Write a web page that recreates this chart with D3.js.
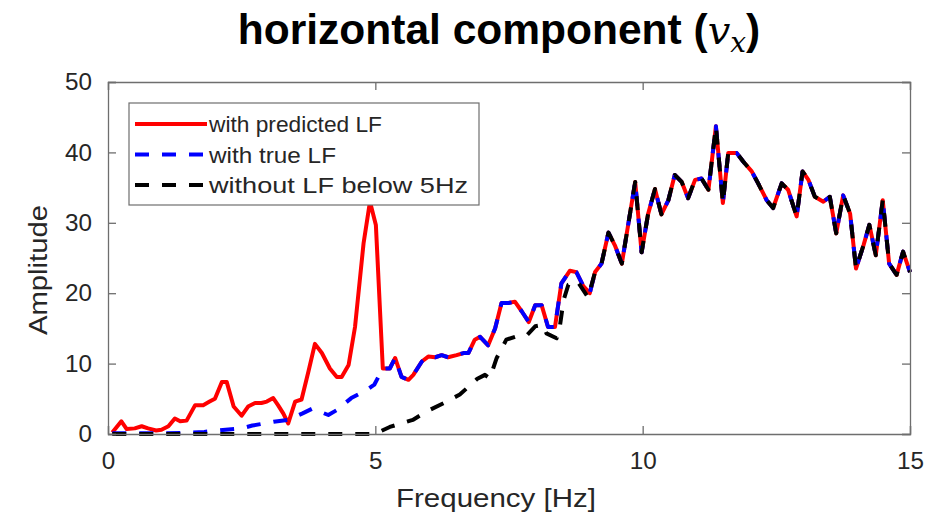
<!DOCTYPE html>
<html lang="en">
<head>
    <meta charset="UTF-8">
    <title>horizontal component</title>
    <script src="https://d3js.org/d3.v7.min.js"></script>
    <style>
        body { margin: 0; background: #fff; }
        text { font-family: "Liberation Sans", Arial, sans-serif; }
    </style>
</head>
<body>
    <svg width="935" height="517" id="chart"></svg>
    <script>
        const width = 935;
        const height = 517;
        const margin = { top: 82, right: 25, bottom: 83, left: 108 };

        // Low-frequency part of each curve (below ~5.2 Hz)
        const freqPredLow = [0.08, 0.25, 0.35, 0.5, 0.63, 0.75, 0.9, 1.0, 1.13, 1.25, 1.35, 1.47, 1.63, 1.78, 1.9, 2.0,
            2.13, 2.22, 2.35, 2.5, 2.62, 2.75, 2.87, 2.97, 3.09, 3.18, 3.28, 3.37, 3.5, 3.62, 3.75, 3.87, 4.0, 4.15,
            4.28, 4.37, 4.5, 4.62, 4.78, 4.9, 5.01];
        const ampPredLow = [0.2, 1.8, 0.7, 0.8, 1.1, 0.8, 0.5, 0.6, 1.1, 2.2, 1.8, 1.9, 4.1, 4.1, 4.6, 5.0,
            7.4, 7.4, 3.9, 2.6, 3.9, 4.4, 4.4, 4.6, 5.1, 4.1, 2.9, 1.5, 4.6, 4.9, 8.9, 12.8, 11.5, 9.3,
            8.1, 8.1, 9.8, 15.2, 27.1, 33.0, 29.7];

        const freqTrueLow = [0.08, 0.5, 1.0, 1.4, 1.8, 2.2, 2.5, 2.7, 2.85, 3.1, 3.37, 3.63, 3.82, 4.12, 4.28, 4.55, 4.83, 4.98];
        const ampTrueLow = [0.1, 0.1, 0.1, 0.15, 0.3, 0.6, 0.8, 1.2, 1.4, 1.75, 2.0, 2.9, 3.6, 2.7, 3.4, 5.1, 6.2, 7.0];

        const freqNoLFLow = [0.08, 1.0, 2.0, 3.0, 4.0, 4.95, 5.02, 5.27, 5.7, 5.96, 6.28, 6.58, 6.9, 7.05, 7.14, 7.27,
            7.45, 7.65, 7.83, 7.99, 8.14, 8.2, 8.39, 8.45, 8.52, 8.61, 8.77, 8.98];
        const ampNoLFLow = [0, 0, 0, 0, 0, 0, 0.1, 1.0, 2.0, 3.2, 4.4, 5.6, 7.8, 8.4, 7.9, 10.8,
            13.4, 13.9, 14.0, 15.3, 15.5, 14.3, 13.6, 15.2, 19.0, 21.2, 21.8, 19.4];

        // Shared by predicted and true LF between 5.1 and 9.1 Hz
        const freqMid = [5.14, 5.27, 5.37, 5.49, 5.62, 5.71, 5.87, 5.99, 6.12, 6.24, 6.36, 6.52, 6.65, 6.74, 6.86, 6.96,
            7.11, 7.24, 7.36, 7.49, 7.61, 7.74, 7.87, 7.99, 8.11, 8.23, 8.36, 8.48, 8.64, 8.76, 8.89, 9.01];
        const ampMid = [9.3, 9.3, 10.8, 8.1, 7.7, 8.4, 10.3, 11.0, 10.9, 11.2, 10.9, 11.2, 11.5, 11.5, 13.4, 13.8,
            12.6, 15.0, 18.6, 18.6, 18.8, 17.4, 15.9, 18.3, 18.3, 15.2, 15.2, 21.4, 23.2, 23.0, 21.0, 20.0];

        // Shared by all three curves above 9.1 Hz
        const freqHigh = [9.11, 9.23, 9.36, 9.48, 9.61, 9.86, 9.98, 10.1, 10.23, 10.35, 10.48, 10.6, 10.73, 10.85, 10.98,
            11.1, 11.23, 11.37, 11.5, 11.6, 11.76, 11.88, 12.04, 12.16, 12.32, 12.44, 12.6, 12.72, 12.88, 12.99,
            13.1, 13.22, 13.38, 13.5, 13.62, 13.75, 13.88, 13.99, 14.13, 14.24, 14.36, 14.49, 14.61, 14.75, 14.87, 15.0];
        const ampHigh = [23.0, 24.2, 28.6, 26.8, 24.2, 35.8, 25.8, 31.2, 34.8, 31.2, 33.2, 36.8, 35.8, 33.5, 36.1,
            36.3, 34.7, 43.7, 32.8, 39.9, 39.9, 38.7, 37.3, 35.6, 33.2, 32.1, 35.6, 34.7, 30.9, 37.3,
            36.1, 33.7, 33.0, 33.7, 28.5, 33.9, 31.3, 23.5, 26.8, 29.7, 25.4, 33.2, 24.2, 22.6, 25.9, 23.0];

        const xTicks = [0, 5, 10, 15];
        const yTicks = [0, 10, 20, 30, 40, 50];
        const seriesNames = ["with predicted LF", "with true LF", "without LF below 5Hz"];

        const zip = (f, a) => f.map((d, i) => [d, a[i]]);
        const series = [
            { name: seriesNames[0], color: "#ff0000", dash: null, labelWidth: 173,
              data: zip(freqPredLow, ampPredLow).concat(zip(freqMid, ampMid), zip(freqHigh, ampHigh)) },
            { name: seriesNames[1], color: "#0000ff", dash: "14,13", labelWidth: 127,
              data: zip(freqTrueLow, ampTrueLow).concat(zip(freqMid, ampMid), zip(freqHigh, ampHigh)) },
            { name: seriesNames[2], color: "#000000", dash: "14,13", labelWidth: 259,
              data: zip(freqNoLFLow, ampNoLFLow).concat(zip(freqHigh, ampHigh)) }
        ];

        const svg = d3.select("#chart");
        const x = d3.scaleLinear().domain([0, 15]).range([margin.left, width - margin.right]);
        const y = d3.scaleLinear().domain([0, 50]).range([height - margin.bottom, margin.top]);

        // Title
        const title = svg.append("text")
            .attr("x", 499).attr("y", 44)
            .attr("text-anchor", "middle")
            .attr("font-size", 42.5).attr("font-weight", "bold").attr("fill", "#000");
        title.append("tspan").text("horizontal component (");
        title.append("tspan").attr("font-family", "'DejaVu Serif', serif").attr("font-style", "italic")
            .attr("font-weight", "normal").attr("font-size", 40).text("v");
        title.append("tspan").attr("font-family", "'DejaVu Serif', serif").attr("font-style", "italic")
            .attr("font-weight", "normal").attr("font-size", 28).attr("dy", 8).text("x");
        title.append("tspan").attr("dy", -8).text(")");

        // Lines
        const line = d3.line().x(d => x(d[0])).y(d => y(d[1]));
        svg.append("g").selectAll("path")
            .data(series)
            .join("path")
            .attr("d", d => line(d.data))
            .attr("fill", "none")
            .attr("stroke", d => d.color)
            .attr("stroke-width", 4)
            .attr("stroke-linejoin", "round")
            .attr("stroke-dasharray", d => d.dash);

        // Axes (ticks pointing inward, box around the plot)
        const axisColor = "#6e6e6e";
        const gx = svg.append("g").attr("transform", `translate(0,${y(0)})`)
            .call(d3.axisBottom(x).tickValues(xTicks).tickSize(-8).tickPadding(18));
        const gxTop = svg.append("g").attr("transform", `translate(0,${y(50)})`)
            .call(d3.axisTop(x).tickValues(xTicks).tickSize(-8).tickFormat(""));
        const gy = svg.append("g").attr("transform", `translate(${x(0)},0)`)
            .call(d3.axisLeft(y).tickValues(yTicks).tickSize(-8).tickPadding(16));
        const gyRight = svg.append("g").attr("transform", `translate(${x(15)},0)`)
            .call(d3.axisRight(y).tickValues(yTicks).tickSize(-8).tickFormat(""));
        [gx, gxTop, gy, gyRight].forEach(g => {
            g.selectAll(".domain").attr("stroke", axisColor).attr("stroke-width", 1.3);
            g.selectAll(".tick line").attr("stroke", axisColor).attr("stroke-width", 1.3);
            g.selectAll(".tick text").attr("font-size", 24).attr("fill", "#262626")
                .attr("textLength", function () { return this.textContent.length * 13.5; })
                .attr("lengthAdjust", "spacingAndGlyphs");
        });

        // Axis labels
        svg.append("text")
            .attr("x", 496).attr("y", 507)
            .attr("text-anchor", "middle")
            .attr("font-size", 26).attr("fill", "#262626")
            .attr("textLength", 200).attr("lengthAdjust", "spacingAndGlyphs")
            .text("Frequency [Hz]");
        svg.append("text")
            .attr("transform", `translate(47,270) rotate(-90)`)
            .attr("text-anchor", "middle")
            .attr("font-size", 26).attr("fill", "#262626")
            .attr("textLength", 130).attr("lengthAdjust", "spacingAndGlyphs")
            .text("Amplitude");

        // Legend
        const legend = svg.append("g");
        legend.append("rect")
            .attr("x", 129).attr("y", 103)
            .attr("width", 350).attr("height", 102)
            .attr("fill", "#fff").attr("stroke", axisColor).attr("stroke-width", 1.2);
        const item = legend.selectAll("g.item")
            .data(series)
            .join("g")
            .attr("class", "item")
            .attr("transform", (d, i) => `translate(0,${124 + i * 30.5})`);
        item.append("line")
            .attr("x1", 135).attr("x2", 207)
            .attr("stroke", d => d.color)
            .attr("stroke-width", 4)
            .attr("stroke-dasharray", d => d.dash);
        item.append("text")
            .attr("x", 209).attr("y", 8)
            .attr("font-size", 22).attr("fill", "#262626")
            .attr("textLength", d => d.labelWidth).attr("lengthAdjust", "spacingAndGlyphs")
            .text(d => d.name);
    </script>
</body>
</html>
